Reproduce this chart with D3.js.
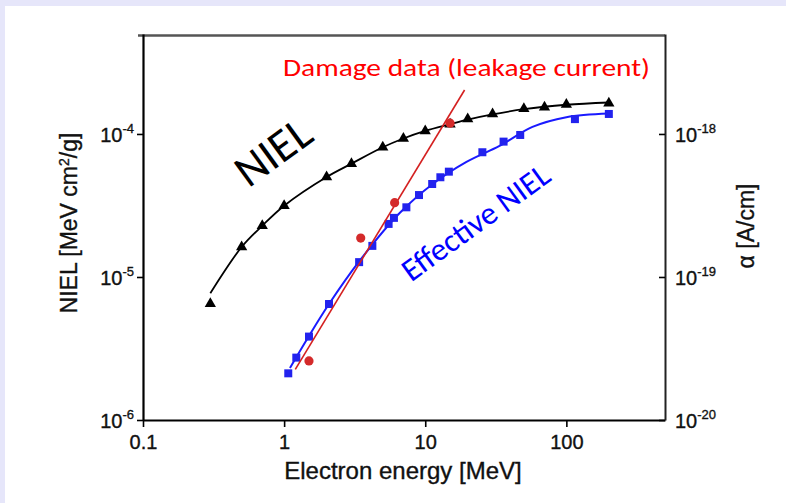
<!DOCTYPE html>
<html><head><meta charset="utf-8">
<script src="https://cdn.jsdelivr.net/npm/d3@7"></script>
<style>html,body{margin:0;padding:0;background:#e6e6fa;}svg{display:block;}</style>
</head><body>
<svg id="c" width="786" height="503"></svg>
<script>
// ---- data ----
const nielE   = [0.3, 0.5, 0.7, 1, 2, 3, 5, 7, 10, 15, 20, 30, 50, 70, 100, 200];
const nielVal = [6.5e-6, 1.62e-5, 2.28e-5, 3.15e-5, 5.0e-5, 6.2e-5, 8.07e-5, 9.3e-5, 1.05e-4, 1.17e-4, 1.27e-4, 1.38e-4, 1.50e-4, 1.54e-4, 1.61e-4, 1.64e-4];
const nielCurveE   = [0.3, 0.5, 0.7, 1, 2, 3, 5, 7, 10, 15, 20, 30, 50, 100, 200];
const nielCurveVal = [7.7e-6, 1.62e-5, 2.28e-5, 3.15e-5, 5.0e-5, 6.2e-5, 8.07e-5, 9.3e-5, 1.05e-4, 1.17e-4, 1.26e-4, 1.37e-4, 1.49e-4, 1.60e-4, 1.66e-4];
const effE   = [1.07, 1.22, 1.5, 2.08, 3.4, 4.22, 5.5, 6.0, 7.35, 9.03, 11.2, 12.8, 14.7, 25.4, 35.9, 47.1, 115, 200];
const effVal = [2.12e-6, 2.73e-6, 3.83e-6, 6.47e-6, 1.27e-5, 1.65e-5, 2.35e-5, 2.59e-5, 3.07e-5, 3.74e-5, 4.47e-5, 4.98e-5, 5.45e-5, 7.45e-5, 8.84e-5, 9.84e-5, 1.27e-4, 1.38e-4];
const effCurveE   = [1.1, 1.5, 2.08, 3.37, 6.59, 11.3, 19.6, 33.6, 57.5, 100, 200];
const effCurveVal = [2.31e-6, 3.87e-6, 6.47e-6, 1.27e-5, 2.80e-5, 4.47e-5, 6.37e-5, 8.24e-5, 1.12e-4, 1.31e-4, 1.39e-4];
const dmgE     = [1.5, 3.49, 6.07, 15.0];
const dmgAlpha = [2.59e-20, 1.87e-19, 3.31e-19, 1.19e-18];
const dmgFitE     = [1.2, 19.0];
const dmgFitAlpha = [2.26e-20, 2.03e-18];
const xMajor = [0.1, 1, 10, 100];
const xLabels = ["0.1", "1", "10", "100"];
const yMajor = [1e-6, 1e-5, 1e-4];
const yExp = ["-6", "-5", "-4"];
const rMajor = [1e-20, 1e-19, 1e-18];
const rExp = ["-20", "-19", "-18"];

// ---- layout ----
const svg = d3.select("#c");
svg.append("rect").attr("x", 5).attr("y", 6).attr("width", 781).attr("height", 497).attr("fill", "#ffffff");

const L = 143, R = 665, T = 34, B = 420;
const x = d3.scaleLog().domain([0.1, 500]).range([L, R]);
const y = d3.scaleLog().domain([1e-6, 5e-4]).range([B, T]);
const yr = d3.scaleLog().domain([1e-20, 5e-18]).range([B, T]);

function minors(lo, hi) {
  const out = [];
  for (let p = lo; p < hi; p++) for (let m = 2; m <= 9; m++) out.push(m * Math.pow(10, p));
  return out;
}
const font = "'Liberation Sans', Arial, sans-serif";
function styleText(sel, size) {
  return sel.attr("font-family", font).attr("font-size", size).attr("fill", "#111")
    .attr("stroke", "#111").attr("stroke-width", 0.35);
}

// top frame line
svg.append("line").attr("x1", 138).attr("x2", R).attr("y1", 35.5).attr("y2", 35.5)
  .attr("stroke", "#555").attr("stroke-width", 2.5);

// bottom axis
const gx = svg.append("g").attr("transform", `translate(0,${B})`);
gx.call(d3.axisBottom(x).tickValues(minors(-1, 3).filter(v => v < 500)).tickSize(4).tickSizeOuter(0).tickFormat(""));
gx.call(d3.axisBottom(x).tickValues(xMajor).tickSize(7).tickSizeOuter(0).tickFormat((d, i) => xLabels[i]).tickPadding(8));
gx.selectAll(".domain").attr("stroke-width", 2).attr("stroke", "#000");
gx.selectAll(".tick line").attr("stroke-width", 1.6);
styleText(gx.selectAll("text"), 20);

// left axis
const gy = svg.append("g").attr("transform", `translate(${L},0)`);
gy.call(d3.axisLeft(y).tickValues(minors(-6, -3).filter(v => v <= 5e-4)).tickSize(4).tickSizeOuter(0).tickFormat(""));
gy.call(d3.axisLeft(y).tickValues(yMajor).tickSize(6).tickSizeOuter(0).tickFormat(""));
gy.selectAll(".domain").attr("stroke-width", 2.2).attr("stroke", "#000");
gy.selectAll(".tick line").attr("stroke-width", 1.6);
yMajor.forEach((v, i) => {
  const t = styleText(svg.append("text").attr("x", 134).attr("y", y(v) + 8).attr("text-anchor", "end"), 20);
  t.append("tspan").text("10");
  t.append("tspan").attr("dy", -9).attr("font-size", 13).text(yExp[i]);
});

// right axis
const gr = svg.append("g").attr("transform", `translate(${R},0)`);
gr.call(d3.axisRight(yr).tickValues(minors(-20, -17).filter(v => v <= 5e-18)).tickSize(-4).tickSizeOuter(0).tickFormat(""));
gr.call(d3.axisRight(yr).tickValues(rMajor).tickSize(-6).tickSizeOuter(0).tickFormat(""));
gr.selectAll(".domain").attr("stroke-width", 2).attr("stroke", "#222");
gr.selectAll(".tick line").attr("stroke-width", 1.6);
rMajor.forEach((v, i) => {
  const t = styleText(svg.append("text").attr("x", 675).attr("y", yr(v) + 8).attr("text-anchor", "start"), 20);
  t.append("tspan").text("10");
  t.append("tspan").attr("dy", -9).attr("font-size", 13).text(rExp[i]);
});

// axis titles
const yt = styleText(svg.append("text").attr("transform", "translate(77,223) rotate(-90)").attr("text-anchor", "middle"), 23);
yt.append("tspan").text("NIEL [MeV cm");
yt.append("tspan").attr("dy", -8).attr("font-size", 14).text("2");
yt.append("tspan").attr("dy", 8).text("/g]");
styleText(svg.append("text").attr("transform", "translate(754,226) rotate(-90)").attr("text-anchor", "middle"), 23)
  .text("α [A/cm]");
styleText(svg.append("text").attr("x", 403).attr("y", 479).attr("text-anchor", "middle"), 24)
  .text("Electron energy [MeV]");

// lines
const lineN = d3.line().x(d => x(d[0])).y(d => y(d[1])).curve(d3.curveCatmullRom);
const lineA = d3.line().x(d => x(d[0])).y(d => yr(d[1]));
svg.append("path").attr("d", lineN(nielCurveE.map((e, i) => [e, nielCurveVal[i]])))
  .attr("fill", "none").attr("stroke", "#000").attr("stroke-width", 1.8);
svg.append("path").attr("d", lineN(effCurveE.map((e, i) => [e, effCurveVal[i]])))
  .attr("fill", "none").attr("stroke", "#1a1aff").attr("stroke-width", 2);

// markers
svg.append("g").selectAll("path").data(nielE.map((e, i) => [e, nielVal[i]])).join("path")
  .attr("d", d3.symbol(d3.symbolTriangle, 55))
  .attr("transform", d => `translate(${x(d[0])},${y(d[1])})`).attr("fill", "#000");
svg.append("g").selectAll("path").data(effE.map((e, i) => [e, effVal[i]])).join("path")
  .attr("d", d3.symbol(d3.symbolSquare, 64))
  .attr("transform", d => `translate(${x(d[0])},${y(d[1])})`).attr("fill", "#2222ee");

svg.append("path").attr("d", lineA(dmgFitE.map((e, i) => [e, dmgFitAlpha[i]])))
  .attr("fill", "none").attr("stroke", "#d42020").attr("stroke-width", 1.6);
svg.append("g").selectAll("circle").data(dmgE.map((e, i) => [e, dmgAlpha[i]])).join("circle")
  .attr("cx", d => x(d[0])).attr("cy", d => yr(d[1])).attr("r", 4.6).attr("fill", "#d42a2a");

// annotations
const afont = "Carlito, 'Open Sans', 'Noto Sans', sans-serif";
svg.append("text").attr("x", 283).attr("y", 76).attr("font-family", afont).attr("font-size", 25)
  .attr("fill", "#ff0000").attr("textLength", 367).attr("lengthAdjust", "spacingAndGlyphs")
  .text("Damage data (leakage current)");
svg.append("text").attr("transform", "translate(282,164) rotate(-36)").attr("text-anchor", "middle")
  .attr("font-family", afont).attr("font-size", 46).attr("fill", "#000").text("NIEL");
svg.append("text").attr("transform", "translate(482,231) rotate(-36)").attr("text-anchor", "middle")
  .attr("font-family", afont).attr("font-size", 32).attr("fill", "#0000ff").text("Effective NIEL");
</script>
</body></html>
